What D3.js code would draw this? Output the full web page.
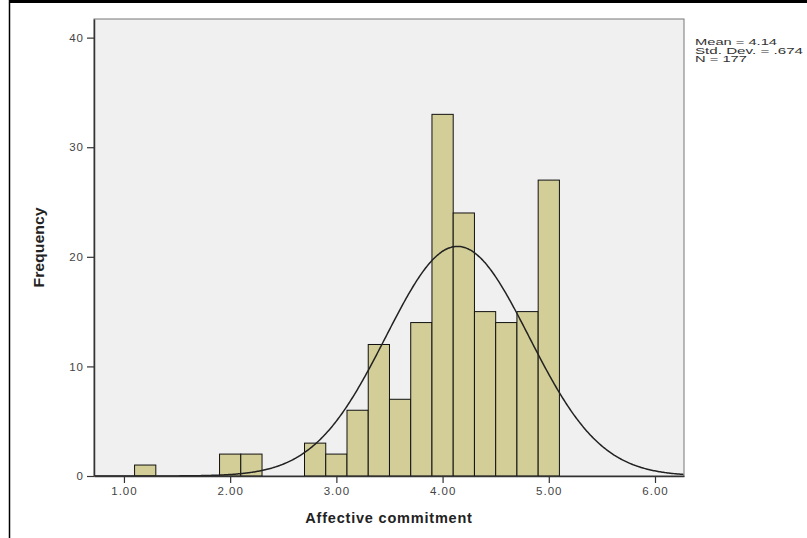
<!DOCTYPE html>
<html>
<head>
<meta charset="utf-8">
<script src="https://cdn.jsdelivr.net/npm/d3@7"></script>
<style>
  body { margin: 0; background: #fff; }
  svg { display: block; }
</style>
</head>
<body>
<div id="root"></div>
<script>
// histogram data
var binCenters = [1.2, 2.0, 2.2, 2.8, 3.0, 3.2, 3.4, 3.6, 3.8, 4.0, 4.2, 4.4, 4.6, 4.8, 5.0];
var frequencies = [1, 2, 2, 3, 2, 6, 12, 7, 14, 33, 24, 15, 14, 15, 27];
var binWidth = 0.2;
var xTicks = [1, 2, 3, 4, 5, 6];
var yTicks = [0, 10, 20, 30, 40];
var statLabels = ['Mean = 4.14', 'Std. Dev. = .674', 'N = 177'];
var mean = 4.14, sd = 0.674, n = 177;

function draw () {
  var width = 807;
  var height = 538;
  var left = 94, right = 684, top = 19, bottom = 476;

  var x = d3.scaleLinear().domain([0.718, 6.273]).range([left, right]);
  var y = d3.scaleLinear().domain([0, 41.7]).range([bottom, top]);

  var svg = d3.select('#root')
    .append('svg')
      .attr('width', width)
      .attr('height', height)
      .style('font-family', '"Liberation Sans", Arial, sans-serif');

  // outer frame
  svg.append('line')
    .attr('x1', 9).attr('x2', width).attr('y1', 1.5).attr('y2', 1.5)
    .attr('stroke', '#000').attr('stroke-width', 3);
  svg.append('line')
    .attr('x1', 9.5).attr('x2', 9.5).attr('y1', 0).attr('y2', height)
    .attr('stroke', '#000').attr('stroke-width', 1.5);

  // plot background
  svg.append('rect')
    .attr('x', left).attr('y', top)
    .attr('width', right - left).attr('height', bottom - top)
    .attr('fill', '#f0f0f0')
    .attr('stroke', '#777').attr('stroke-width', 1);

  svg.append('clipPath').attr('id', 'clip')
    .append('rect')
      .attr('x', left).attr('y', top)
      .attr('width', right - left).attr('height', bottom - top);

  // bars
  svg.selectAll('rect.bar')
    .data(binCenters)
    .enter()
    .append('rect')
      .attr('class', 'bar')
      .attr('x', function(d) { return x(d - binWidth / 2); })
      .attr('width', function(d) { return x(d + binWidth / 2) - x(d - binWidth / 2); })
      .attr('y', function(d, i) { return y(frequencies[i]); })
      .attr('height', function(d, i) { return y(0) - y(frequencies[i]); })
      .attr('fill', '#d3ce97')
      .attr('stroke', '#111')
      .attr('stroke-width', 1);

  // normal curve
  var xs = d3.range(0.718, 6.274, 0.01);
  var curve = d3.line()
    .x(function(d) { return x(d); })
    .y(function(d) {
      var z = (d - mean) / sd;
      return y(n * binWidth * Math.exp(-0.5 * z * z) / (sd * Math.sqrt(2 * Math.PI)));
    })
    .curve(d3.curveBasis);
  svg.append('path')
    .attr('d', curve(xs))
    .attr('clip-path', 'url(#clip)')
    .attr('fill', 'none')
    .attr('stroke', '#222')
    .attr('stroke-width', 1.5);

  // axes
  var xAxis = svg.append('g')
    .attr('transform', 'translate(0,' + bottom + ')')
    .call(d3.axisBottom(x).tickValues(xTicks).tickFormat(d3.format('.2f')).tickSize(7).tickSizeOuter(0).tickPadding(4));
  var yAxis = svg.append('g')
    .attr('transform', 'translate(' + left + ',0)')
    .call(d3.axisLeft(y).tickValues(yTicks).tickSize(7).tickSizeOuter(0).tickPadding(3));

  [xAxis, yAxis].forEach(function(g) {
    g.select('.domain').attr('stroke', '#333').attr('stroke-width', 1.5);
    g.selectAll('.tick line').attr('stroke', '#333').attr('stroke-width', 1.2);
    g.selectAll('.tick text')
      .attr('fill', '#444')
      .style('font-size', '11.5px')
      .style('letter-spacing', '1px');
  });

  // axis titles
  svg.append('text')
    .attr('x', (left + right) / 2)
    .attr('y', 523)
    .attr('text-anchor', 'middle')
    .style('font-size', '14.5px')
    .style('font-weight', 'bold')
    .style('letter-spacing', '0.8px')
    .attr('fill', '#222')
    .text('Affective commitment');

  svg.append('text')
    .attr('transform', 'translate(44,' + (top + bottom) / 2 + ') rotate(-90)')
    .attr('text-anchor', 'middle')
    .style('font-size', '15px')
    .style('font-weight', 'bold')
    .attr('textLength', 80)
    .attr('lengthAdjust', 'spacingAndGlyphs')
    .attr('fill', '#222')
    .text('Frequency');

  // stats box
  var statWidths = [82, 108, 52];
  svg.selectAll('text.stat')
    .data(statLabels)
    .enter()
    .append('text')
      .attr('class', 'stat')
      .attr('x', 695)
      .attr('y', function(d, i) { return 45 + i * 8.5; })
      .attr('textLength', function(d, i) { return statWidths[i]; })
      .attr('lengthAdjust', 'spacingAndGlyphs')
      .style('font-size', '8.5px')
      .attr('fill', '#333')
      .text(function(d) { return d; });
}

draw();
</script>
</body>
</html>
